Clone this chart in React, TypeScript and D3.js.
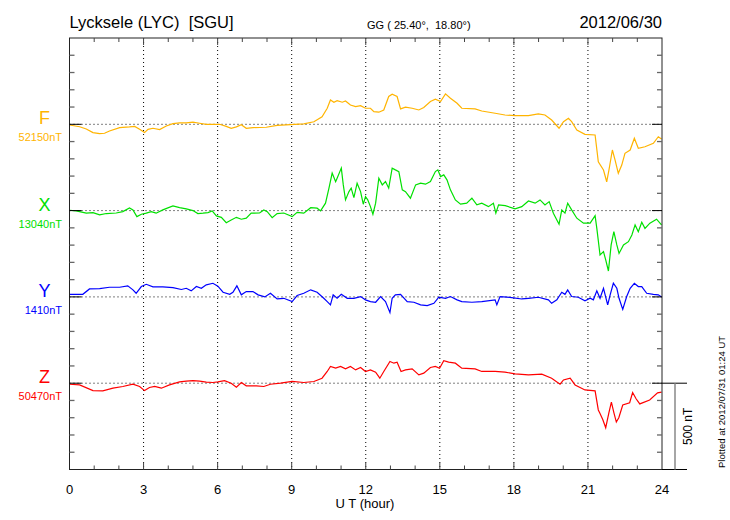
import React from 'react';
import * as d3 from 'd3';

// [UT hour, nT offset from the component's base value]
const fData: [number, number][] = [
  [0.0, -4], [0.41, -14], [0.68, -27], [0.95, -48], [1.22, -54], [1.42, -52], [1.62, -39], [2.03, -19],
  [2.43, -15], [2.64, -12], [2.84, -29], [3.04, -48], [3.18, -29], [3.38, -23], [3.65, -31], [3.92, -10],
  [4.19, 4], [4.46, 8], [4.73, 8], [5.0, 12], [5.27, 6], [5.54, 0], [5.81, 0], [6.08, 0],
  [6.35, -12], [6.55, -23], [6.76, -15], [6.96, -2], [7.16, -23], [7.43, -19], [7.97, -17],
  [8.41, -6], [8.95, -2], [9.49, 2], [9.9, 15], [10.23, 44], [10.44, 93], [10.57, 141], [10.71, 128],
  [10.84, 137], [11.05, 128], [11.18, 135], [11.38, 112], [11.59, 103], [11.79, 108], [11.99, 93], [12.19, 93],
  [12.33, 73], [12.53, 70], [12.73, 83], [12.93, 161], [13.07, 174], [13.27, 161], [13.41, 89], [13.61, 99],
  [13.88, 93], [14.15, 83], [14.35, 97], [14.62, 132], [14.82, 145], [15.03, 132], [15.23, 176], [15.43, 151],
  [15.7, 122], [15.89, 93], [16.43, 89], [16.7, 77], [17.24, 64], [17.64, 54], [18.05, 50], [18.59, 50],
  [18.99, 60], [19.26, 54], [19.53, 25], [19.83, -23], [20.01, 15], [20.21, 35], [20.34, 15], [20.55, -33],
  [20.88, -58], [21.29, -62], [21.42, -217], [21.63, -265], [21.76, -333], [21.85, -265], [21.99, -149], [22.1, -207],
  [22.23, -284], [22.37, -236], [22.5, -168], [22.71, -149], [22.88, -81], [23.04, -139], [23.31, -130], [23.65, -110],
  [23.85, -72], [23.98, -85],
];

const xData: [number, number][] = [
  [0.0, 2], [0.27, -2], [0.68, -15], [0.95, -12], [1.22, -25], [1.49, -17], [1.89, -14], [2.16, -6],
  [2.43, 15], [2.57, 4], [2.73, -35], [2.91, -21], [3.11, -15], [3.31, -6], [3.51, -15], [3.78, 4],
  [4.19, 27], [4.46, 17], [4.73, 10], [5.0, 0], [5.2, -17], [5.41, -15], [5.61, -12], [5.78, -2],
  [5.95, -31], [6.15, -39], [6.35, -70], [6.55, -54], [6.76, -39], [6.96, -50], [7.16, -44], [7.36, -15],
  [7.7, -14], [7.87, 4], [8.01, -6], [8.21, -41], [8.41, -17], [8.68, -14], [9.02, -35], [9.22, -10],
  [9.49, -15], [9.77, 17], [10.03, 14], [10.17, -2], [10.37, 43], [10.51, 130], [10.64, 217], [10.78, 168],
  [10.84, 188], [11.01, 246], [11.09, 149], [11.18, 62], [11.32, 110], [11.41, 130], [11.52, 75], [11.65, 159],
  [11.79, 110], [11.9, 37], [11.99, 81], [12.08, 62], [12.19, 23], [12.29, -21], [12.4, 43], [12.53, 188],
  [12.67, 149], [12.8, 168], [12.93, 130], [13.07, 246], [13.2, 236], [13.34, 226], [13.48, 120], [13.61, 110],
  [13.81, 72], [14.02, 149], [14.22, 159], [14.42, 153], [14.62, 168], [14.82, 226], [14.92, 236], [15.03, 197],
  [15.16, 207], [15.29, 178], [15.43, 120], [15.63, 62], [15.84, 37], [16.09, 43], [16.3, 72], [16.5, 33],
  [16.7, 43], [16.97, 23], [17.17, 43], [17.27, -15], [17.38, 33], [17.65, 29], [18.05, 10], [18.32, 23],
  [18.59, 56], [18.86, 43], [19.06, 62], [19.26, 33], [19.43, 52], [19.6, -15], [19.83, -79], [19.94, 4],
  [20.07, -15], [20.18, 43], [20.34, 4], [20.55, -44], [20.82, -73], [21.09, -73], [21.29, -29], [21.36, -103],
  [21.49, -257], [21.63, -238], [21.72, -286], [21.83, -350], [21.94, -199], [22.05, -122], [22.17, -199], [22.26, -248],
  [22.44, -199], [22.64, -180], [22.78, -141], [22.91, -83], [23.04, -122], [23.18, -68], [23.31, -103], [23.51, -73],
  [23.78, -50], [23.98, -83],
];

const yData: [number, number][] = [
  [0.0, 15], [0.27, 15], [0.54, 15], [0.81, 46], [1.22, 48], [1.62, 56], [2.03, 56], [2.36, 64],
  [2.57, 41], [2.7, 21], [2.91, 60], [3.11, 73], [3.38, 58], [3.78, 58], [4.19, 54], [4.53, 43],
  [4.73, 50], [4.93, 35], [5.14, 60], [5.34, 50], [5.54, 70], [5.81, 79], [6.01, 62], [6.22, 27],
  [6.49, 15], [6.62, 27], [6.78, 64], [6.96, 12], [7.16, 31], [7.43, 31], [7.64, 12], [7.91, 0],
  [8.14, 21], [8.41, -12], [8.68, -8], [9.02, -27], [9.22, 8], [9.49, 21], [9.77, 41], [10.03, 27],
  [10.3, -8], [10.44, -27], [10.57, -46], [10.68, 12], [10.84, -8], [11.01, 15], [11.25, -8], [11.52, -8],
  [11.79, 2], [11.99, -17], [12.19, -27], [12.4, -31], [12.6, 2], [12.8, -27], [12.98, -91], [13.07, -8],
  [13.2, 12], [13.41, 15], [13.68, -27], [13.95, -31], [14.22, -46], [14.49, -50], [14.76, -37], [14.96, -2],
  [15.23, -8], [15.43, 2], [15.7, -17], [15.89, -27], [16.3, -31], [16.7, -27], [17.24, -17], [17.31, -46],
  [17.44, 2], [17.91, -4], [18.32, -12], [18.59, -8], [18.99, -2], [19.4, -17], [19.53, -37], [19.74, -17],
  [19.94, 27], [20.07, 15], [20.18, 41], [20.34, 2], [20.61, -2], [20.88, -23], [21.09, -8], [21.22, -17],
  [21.36, 35], [21.49, -8], [21.63, 50], [21.8, -46], [21.9, 12], [22.03, 79], [22.17, 50], [22.26, -8],
  [22.41, -72], [22.57, 2], [22.71, 50], [22.88, 79], [23.04, 60], [23.18, 60], [23.38, 21], [23.65, 15],
  [23.85, 12], [23.98, 0],
];

const zData: [number, number][] = [
  [0.0, -6], [0.41, -10], [0.95, -43], [1.35, -44], [1.76, -29], [2.16, -19], [2.57, -6], [2.84, -19],
  [3.04, -43], [3.24, -25], [3.45, -19], [3.72, -29], [4.05, -10], [4.46, 8], [4.73, 12], [5.0, 15],
  [5.27, 12], [5.54, 6], [5.81, 4], [6.01, 8], [6.28, 15], [6.55, 0], [6.76, -23], [6.96, 4],
  [7.16, -15], [7.57, -15], [7.87, -19], [8.14, -6], [8.55, 0], [9.02, 10], [9.49, 4], [9.9, 10],
  [10.23, 29], [10.44, 68], [10.57, 97], [10.78, 87], [10.98, 97], [11.18, 83], [11.38, 97], [11.59, 77],
  [11.79, 91], [11.99, 68], [12.19, 77], [12.4, 64], [12.57, 29], [12.73, 68], [12.98, 126], [13.14, 116],
  [13.27, 122], [13.43, 68], [13.61, 77], [13.88, 83], [14.15, 48], [14.35, 58], [14.62, 91], [14.82, 97],
  [14.99, 87], [15.16, 130], [15.36, 122], [15.63, 116], [15.89, 87], [16.43, 83], [16.7, 68], [17.24, 68],
  [17.64, 64], [18.05, 54], [18.59, 48], [19.13, 52], [19.53, 29], [19.87, -6], [20.01, 19], [20.28, 29],
  [20.48, -10], [20.88, -39], [21.29, -44], [21.42, -155], [21.48, -172], [21.6, -210], [21.72, -258], [21.85, -170],
  [21.95, -109], [22.05, -170], [22.15, -225], [22.25, -200], [22.41, -126], [22.69, -113], [22.81, -54], [22.95, -90],
  [23.1, -120], [23.5, -97], [23.82, -56], [23.98, -52],
];

const components = ['F', 'X', 'Y', 'Z'];
const baseLabels = ['52150nT', '13040nT', '1410nT', '50470nT'];
const colors = ['#FFB400', '#00E000', '#0000FF', '#FF0000'];
const series = [fData, xData, yData, zData];
const stackOffsets = [2000, 1500, 1000, 500]; // nT position of each base line in the stacked panel
const hourTicks = [0, 3, 6, 9, 12, 15, 18, 21, 24];

const W = 730;
const H = 520;
const left = 69.5;
const right = 662;
const top = 38;
const bottom = 469.5;
const font = 'Liberation Sans, Arial, Helvetica, sans-serif';
const pre = { whiteSpace: 'pre' } as React.CSSProperties;

export default function App() {
  const x = d3.scaleLinear().domain([0, 24]).range([left, right]);
  const y = d3.scaleLinear().domain([0, 2500]).range([bottom, top]);

  const nTicks = d3.range(100, 2500, 100);
  const hours = d3.range(1, 24, 1);

  return (
    <svg width={W} height={H} style={{ position: 'absolute', left: 0, top: 0, background: '#fff' }}>
      {/* title */}
      <text x={left} y={28} fontFamily={font} fontSize={16.5} fill="#000" style={pre}>{'Lycksele (LYC)  [SGU]'}</text>
      <text x={367} y={29} fontFamily={font} fontSize={11} fill="#000" style={pre}>{'GG ( 25.40°,  18.80°)'}</text>
      <text x={right} y={28} fontFamily={font} fontSize={16.5} textAnchor="end" fill="#000">2012/06/30</text>

      {/* vertical dotted grid */}
      {hourTicks.slice(1, -1).map(h => (
        <line key={'vg' + h} x1={x(h)} x2={x(h)} y1={top} y2={bottom}
          stroke="#000" strokeWidth={1} strokeDasharray="1,3" />
      ))}

      {/* base lines */}
      {stackOffsets.map((o, i) => (
        <line key={'hg' + i} x1={left} x2={right} y1={y(o)} y2={y(o)}
          stroke="#000" strokeWidth={1} strokeDasharray="1,3" />
      ))}

      {/* data */}
      {series.map((s, i) => {
        const line = d3.line<[number, number]>()
          .x(d => x(d[0]))
          .y(d => y(stackOffsets[i] + d[1]));
        return <path key={'s' + i} d={line(s) || ''} fill="none" stroke={colors[i]} strokeWidth={1.2} />;
      })}

      {/* frame */}
      <rect x={left} y={top} width={right - left} height={bottom - top} fill="none" stroke="#222" strokeWidth={1} />

      {/* nT ticks left/right */}
      {nTicks.map(v => {
        const major = v % 500 === 0;
        return (
          <g key={'nt' + v}>
            <line x1={left} x2={left + (major ? 12 : 5)} y1={y(v)} y2={y(v)}
              stroke={major ? '#000' : '#666'} strokeWidth={major ? 1 : 1.3} />
            <line x1={right - (major ? 10 : 5)} x2={right} y1={y(v)} y2={y(v)}
              stroke={major ? '#000' : '#666'} strokeWidth={major ? 1 : 1.3} />
          </g>
        );
      })}

      {/* hour ticks top/bottom */}
      {hours.map(h => {
        const len = h % 3 === 0 ? 7 : 4;
        return (
          <g key={'ht' + h}>
            <line x1={x(h)} x2={x(h)} y1={bottom} y2={bottom - len} stroke="#444" strokeWidth={1} />
            <line x1={x(h)} x2={x(h)} y1={top} y2={top + len} stroke="#444" strokeWidth={1} />
          </g>
        );
      })}

      {/* hour labels */}
      {hourTicks.map(h => (
        <text key={'hl' + h} x={x(h)} y={494} fontFamily={font} fontSize={13} textAnchor="middle" fill="#000">{h}</text>
      ))}
      <text x={365} y={508} fontFamily={font} fontSize={13} textAnchor="middle" fill="#000">U T (hour)</text>

      {/* component labels */}
      {components.map((c, i) => (
        <g key={'cl' + c}>
          <text x={44.5} y={y(stackOffsets[i])} fontFamily={font} fontSize={18} textAnchor="middle" fill={colors[i]}>{c}</text>
          <text x={62} y={y(stackOffsets[i]) + 17} fontFamily={font} fontSize={11} textAnchor="end" fill={colors[i]}>{baseLabels[i]}</text>
        </g>
      ))}

      {/* 500 nT scale bar */}
      <line x1={right} x2={687} y1={y(500)} y2={y(500)} stroke="#000" strokeWidth={1} />
      <line x1={right} x2={687} y1={bottom} y2={bottom} stroke="#000" strokeWidth={1} />
      <line x1={675} x2={675} y1={y(500)} y2={y(0)} stroke="#888" strokeWidth={1.5} />
      <text transform={`translate(691.5,${(y(500) + y(0)) / 2}) rotate(-90)`} fontFamily={font} fontSize={12}
        textAnchor="middle" fill="#000">500 nT</text>

      <text transform="translate(725,468) rotate(-90)" fontFamily={font} fontSize={9.5} fill="#000">
        Plotted at 2012/07/31 01:24 UT
      </text>
    </svg>
  );
}
